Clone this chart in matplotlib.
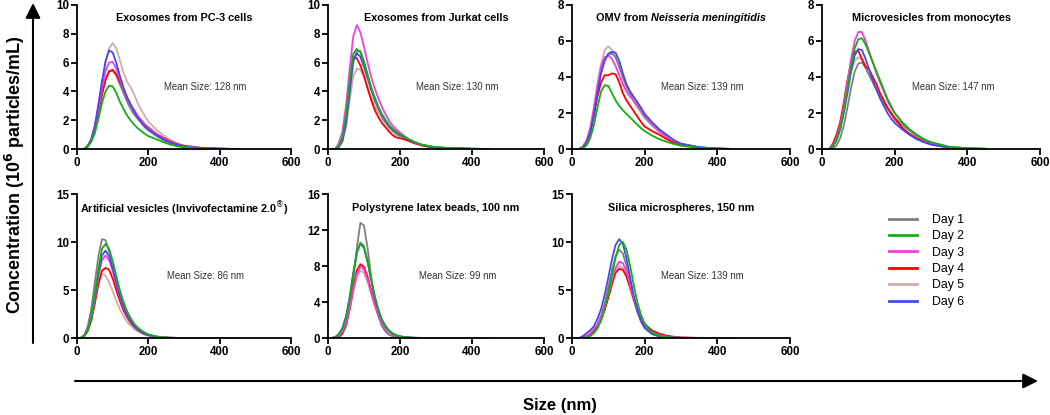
import matplotlib
matplotlib.use("Agg")
import matplotlib.pyplot as plt
from matplotlib.lines import Line2D
from matplotlib.patches import FancyArrowPatch
from matplotlib.offsetbox import TextArea, HPacker, AnchoredOffsetbox

plt.rcParams['font.family'] = ['Liberation Sans', 'DejaVu Sans']

# ---------------- data ----------------
size_nm = [10, 20, 30, 40, 50, 60, 70, 80, 90, 100, 110, 120, 130, 140, 150,
           160, 170, 180, 190, 200, 220, 240, 260, 280, 300, 350, 400, 450]

days = ["Day 1", "Day 2", "Day 3", "Day 4", "Day 5", "Day 6"]
day_colors = ["#808080", "#10B010", "#F040E0", "#FF0000", "#D4AAAA", "#4848F0"]

# (regular bold part, bold-italic part)
titles = [
    ("Exosomes from PC-3 cells", ""),
    ("Exosomes from Jurkat cells", ""),
    ("OMV from", "Neisseria meningitidis"),
    ("Microvesicles from monocytes", ""),
    ("Artificial vesicles (Invivofectamine 2.0$^{\\circledR}$)", ""),
    ("Polystyrene latex beads, 100 nm", ""),
    ("Silica microspheres, 150 nm", ""),
]
mean_sizes = ["Mean Size: 128 nm", "Mean Size: 130 nm", "Mean Size: 139 nm",
              "Mean Size: 147 nm", "Mean Size: 86 nm", "Mean Size: 99 nm",
              "Mean Size: 139 nm"]
y_max = [10, 10, 8, 8, 15, 16, 15]
y_ticks = [[0, 2, 4, 6, 8, 10], [0, 2, 4, 6, 8, 10], [0, 2, 4, 6, 8],
           [0, 2, 4, 6, 8], [0, 5, 10, 15], [0, 4, 8, 12, 16], [0, 5, 10, 15]]
x_ticks = [0, 200, 400, 600]

# Panel 1: Exosomes from PC-3 cells
pc3_day1 = [0, 0, 0.2, 0.6, 1.4, 2.6, 3.8, 4.8, 5.4, 5.45, 5.1, 4.5, 3.9, 3.3, 2.8, 2.4, 2.1, 1.8, 1.5, 1.3, 0.95, 0.65, 0.4, 0.25, 0.15, 0.05, 0.02, 0]
pc3_day2 = [0, 0, 0.15, 0.5, 1.1, 2.1, 3.2, 4.0, 4.4, 4.35, 3.9, 3.3, 2.8, 2.35, 2.0, 1.7, 1.45, 1.25, 1.05, 0.9, 0.7, 0.5, 0.32, 0.2, 0.12, 0.04, 0.01, 0]
pc3_day3 = [0, 0, 0.2, 0.6, 1.5, 2.8, 4.2, 5.4, 6.0, 6.05, 5.6, 4.9, 4.2, 3.6, 3.1, 2.7, 2.3, 2.0, 1.7, 1.45, 1.05, 0.75, 0.5, 0.3, 0.18, 0.06, 0.02, 0]
pc3_day4 = [0, 0, 0.2, 0.6, 1.4, 2.6, 3.8, 4.8, 5.4, 5.5, 5.2, 4.7, 4.2, 3.6, 3.1, 2.7, 2.3, 2.0, 1.7, 1.5, 1.1, 0.8, 0.55, 0.35, 0.22, 0.07, 0.02, 0]
pc3_day5 = [0, 0, 0.2, 0.7, 1.6, 3.0, 4.6, 6.0, 7.0, 7.35, 7.0, 6.2, 5.3, 4.7, 4.3, 3.8, 3.2, 2.7, 2.3, 1.9, 1.4, 1.0, 0.65, 0.4, 0.25, 0.08, 0.02, 0]
pc3_day6 = [0, 0, 0.2, 0.7, 1.6, 3.1, 4.7, 6.1, 6.85, 6.7, 6.0, 5.1, 4.3, 3.6, 3.1, 2.6, 2.2, 1.9, 1.6, 1.35, 1.0, 0.7, 0.45, 0.3, 0.18, 0.06, 0.02, 0]

# Panel 2: Exosomes from Jurkat cells
jur_day1 = [0, 0, 0.15, 0.6, 1.8, 3.9, 6.0, 6.8, 6.8, 6.1, 5.2, 4.3, 3.6, 2.9, 2.4, 2.0, 1.65, 1.4, 1.2, 1.05, 0.7, 0.45, 0.3, 0.2, 0.12, 0.05, 0.02, 0]
jur_day2 = [0, 0, 0.2, 0.8, 2.3, 4.6, 6.6, 6.95, 6.7, 6.0, 5.1, 4.2, 3.5, 2.9, 2.4, 2.0, 1.65, 1.35, 1.15, 1.0, 0.75, 0.5, 0.3, 0.2, 0.12, 0.05, 0.02, 0]
jur_day3 = [0, 0, 0.4, 1.2, 3.0, 5.5, 7.8, 8.6, 8.1, 7.1, 6.0, 5.0, 4.2, 3.5, 2.9, 2.4, 1.95, 1.6, 1.35, 1.15, 0.75, 0.45, 0.3, 0.2, 0.12, 0.05, 0.01, 0]
jur_day4 = [0, 0, 0.15, 0.7, 2.0, 4.4, 6.4, 6.3, 5.8, 5.1, 4.2, 3.4, 2.7, 2.2, 1.8, 1.5, 1.2, 0.95, 0.8, 0.75, 0.6, 0.4, 0.25, 0.15, 0.1, 0.04, 0.01, 0]
jur_day5 = [0, 0, 0.1, 0.5, 1.5, 3.3, 5.0, 5.6, 5.5, 5.0, 4.3, 3.6, 3.0, 2.5, 2.1, 1.75, 1.45, 1.2, 1.0, 0.85, 0.6, 0.4, 0.25, 0.15, 0.1, 0.04, 0.01, 0]
jur_day6 = [0, 0, 0.15, 0.6, 1.8, 4.0, 6.1, 6.65, 6.4, 5.7, 4.9, 4.1, 3.4, 2.8, 2.3, 1.9, 1.55, 1.3, 1.1, 0.95, 0.7, 0.45, 0.3, 0.18, 0.1, 0.04, 0.01, 0]

# Panel 3: OMV from Neisseria meningitidis
omv_day1 = [0, 0, 0.1, 0.4, 1.0, 2.0, 3.2, 4.3, 5.0, 5.25, 5.3, 5.1, 4.6, 4.0, 3.5, 3.1, 2.7, 2.4, 2.1, 1.8, 1.35, 1.0, 0.7, 0.45, 0.28, 0.09, 0.02, 0]
omv_day2 = [0, 0, 0.05, 0.2, 0.6, 1.3, 2.3, 3.2, 3.55, 3.5, 3.1, 2.7, 2.4, 2.15, 1.95, 1.75, 1.55, 1.35, 1.15, 1.0, 0.75, 0.55, 0.4, 0.28, 0.18, 0.06, 0.02, 0]
omv_day3 = [0, 0, 0.12, 0.45, 1.1, 2.2, 3.5, 4.6, 5.1, 5.2, 5.0, 4.6, 4.1, 3.6, 3.2, 2.9, 2.7, 2.5, 2.2, 1.9, 1.4, 1.0, 0.7, 0.45, 0.28, 0.09, 0.02, 0]
omv_day4 = [0, 0, 0.1, 0.35, 0.9, 1.8, 2.9, 3.7, 4.1, 4.1, 4.2, 4.15, 3.7, 3.1, 2.7, 2.4, 2.1, 1.8, 1.5, 1.25, 1.0, 0.8, 0.55, 0.35, 0.22, 0.07, 0.02, 0]
omv_day5 = [0, 0, 0.15, 0.5, 1.2, 2.3, 3.6, 4.7, 5.5, 5.7, 5.5, 5.1, 4.5, 3.9, 3.4, 3.0, 2.6, 2.3, 2.0, 1.7, 1.3, 0.95, 0.65, 0.4, 0.25, 0.08, 0.02, 0]
omv_day6 = [0, 0, 0.1, 0.35, 0.9, 1.9, 3.1, 4.2, 4.9, 5.3, 5.4, 5.35, 4.9, 4.2, 3.6, 3.2, 2.9, 2.6, 2.3, 1.95, 1.5, 1.1, 0.8, 0.5, 0.3, 0.1, 0.02, 0]

# Panel 4: Microvesicles from monocytes
mv_day1 = [0, 0, 0.05, 0.2, 0.6, 1.3, 2.3, 3.4, 4.3, 4.75, 4.8, 4.5, 4.1, 3.7, 3.3, 2.9, 2.6, 2.3, 2.0, 1.75, 1.35, 1.05, 0.75, 0.5, 0.35, 0.12, 0.05, 0.02]
mv_day2 = [0, 0, 0.15, 0.5, 1.1, 2.1, 3.3, 4.6, 5.6, 6.1, 6.15, 5.8, 5.3, 4.8, 4.3, 3.8, 3.3, 2.8, 2.4, 2.0, 1.5, 1.1, 0.8, 0.55, 0.38, 0.12, 0.04, 0.01]
mv_day3 = [0, 0, 0.2, 0.6, 1.3, 2.4, 3.7, 5.0, 6.0, 6.5, 6.5, 6.0, 5.4, 4.8, 4.2, 3.7, 3.2, 2.7, 2.3, 2.0, 1.5, 1.1, 0.8, 0.55, 0.35, 0.1, 0.03, 0]
mv_day4 = [0, 0, 0.3, 0.8, 1.5, 2.6, 3.8, 4.8, 5.4, 5.45, 5.0, 4.6, 4.4, 4.0, 3.6, 3.1, 2.7, 2.3, 2.0, 1.7, 1.2, 0.85, 0.6, 0.4, 0.25, 0.07, 0.02, 0]
mv_day5 = [0, 0, 0.15, 0.5, 1.1, 2.1, 3.3, 4.3, 4.9, 5.1, 4.9, 4.5, 4.1, 3.7, 3.3, 2.9, 2.5, 2.2, 1.9, 1.6, 1.2, 0.9, 0.65, 0.45, 0.3, 0.1, 0.03, 0.01]
mv_day6 = [0, 0, 0.15, 0.5, 1.1, 2.0, 3.1, 4.3, 5.2, 5.55, 5.5, 5.0, 4.4, 3.8, 3.3, 2.8, 2.4, 2.0, 1.7, 1.45, 1.1, 0.8, 0.55, 0.38, 0.25, 0.08, 0.02, 0]

# Panel 5: Artificial vesicles
art_day1 = [0, 0.3, 1.2, 3.0, 5.8, 8.5, 10.3, 10.2, 9.0, 7.3, 5.6, 4.2, 3.1, 2.3, 1.7, 1.2, 0.85, 0.6, 0.4, 0.28, 0.12, 0.05, 0.02, 0.01, 0, 0, 0, 0]
art_day2 = [0, 0.2, 0.8, 2.2, 4.5, 7.2, 9.3, 9.8, 9.3, 8.0, 6.5, 5.0, 3.8, 2.8, 2.1, 1.5, 1.1, 0.8, 0.55, 0.38, 0.18, 0.08, 0.03, 0.01, 0, 0, 0, 0]
art_day3 = [0, 0.2, 0.8, 2.0, 4.0, 6.4, 8.1, 8.6, 8.1, 7.0, 5.6, 4.3, 3.2, 2.4, 1.8, 1.3, 0.9, 0.65, 0.45, 0.32, 0.15, 0.06, 0.02, 0.01, 0, 0, 0, 0]
art_day4 = [0, 0.2, 0.7, 1.8, 3.6, 5.6, 7.0, 7.3, 7.1, 6.2, 5.0, 3.9, 2.9, 2.2, 1.6, 1.2, 0.85, 0.6, 0.42, 0.3, 0.14, 0.06, 0.02, 0.01, 0, 0, 0, 0]
art_day5 = [0, 0.2, 0.8, 2.0, 3.9, 5.8, 6.7, 6.5, 5.8, 4.9, 3.9, 3.0, 2.3, 1.7, 1.3, 0.95, 0.7, 0.5, 0.35, 0.25, 0.12, 0.05, 0.02, 0.01, 0, 0, 0, 0]
art_day6 = [0, 0.2, 0.8, 2.1, 4.3, 6.8, 8.6, 9.1, 8.5, 7.3, 5.8, 4.4, 3.3, 2.4, 1.8, 1.3, 0.9, 0.65, 0.45, 0.32, 0.15, 0.06, 0.02, 0.01, 0, 0, 0, 0]

# Panel 6: Polystyrene latex beads
ps_day1 = [0, 0, 0.05, 0.4, 1.3, 3.2, 6.3, 10.0, 12.8, 12.5, 10.0, 6.8, 4.2, 2.4, 1.3, 0.7, 0.35, 0.18, 0.08, 0.04, 0.01, 0, 0, 0, 0, 0, 0, 0]
ps_day2 = [0, 0.1, 0.4, 1.0, 2.2, 4.3, 7.0, 9.4, 10.6, 10.2, 8.6, 6.5, 4.6, 3.1, 2.0, 1.3, 0.8, 0.5, 0.3, 0.18, 0.07, 0.02, 0.01, 0, 0, 0, 0, 0]
ps_day3 = [0, 0.05, 0.25, 0.7, 1.6, 3.2, 5.3, 7.1, 7.9, 7.6, 6.5, 5.1, 3.7, 2.5, 1.6, 1.0, 0.65, 0.4, 0.25, 0.15, 0.05, 0.02, 0, 0, 0, 0, 0, 0]
ps_day4 = [0, 0.05, 0.2, 0.6, 1.5, 3.2, 5.5, 7.5, 8.2, 7.9, 6.8, 5.3, 3.8, 2.6, 1.7, 1.1, 0.7, 0.4, 0.25, 0.15, 0.05, 0.02, 0, 0, 0, 0, 0, 0]
ps_day5 = [0, 0.05, 0.25, 0.7, 1.6, 3.1, 5.1, 6.8, 7.5, 7.2, 6.2, 4.8, 3.5, 2.4, 1.6, 1.0, 0.65, 0.4, 0.25, 0.15, 0.05, 0.02, 0, 0, 0, 0, 0, 0]
ps_day6 = [0, 0.1, 0.45, 1.1, 2.4, 4.5, 7.2, 9.5, 10.5, 10.0, 8.4, 6.4, 4.6, 3.1, 2.0, 1.3, 0.8, 0.5, 0.3, 0.18, 0.07, 0.02, 0.01, 0, 0, 0, 0, 0]

# Panel 7: Silica microspheres
si_day1 = [0, 0, 0.05, 0.2, 0.4, 0.8, 1.4, 2.3, 3.6, 5.3, 7.1, 8.5, 9.2, 8.8, 7.5, 5.8, 4.1, 2.7, 1.7, 1.0, 0.4, 0.15, 0.06, 0.02, 0.01, 0, 0, 0]
si_day2 = [0, 0, 0, 0.05, 0.2, 0.5, 1.0, 1.8, 3.0, 4.6, 6.5, 8.4, 9.7, 10.0, 9.2, 7.5, 5.5, 3.7, 2.4, 1.5, 0.6, 0.25, 0.1, 0.04, 0.02, 0, 0, 0]
si_day3 = [0, 0, 0.05, 0.2, 0.5, 0.9, 1.4, 2.2, 3.3, 4.6, 6.0, 7.3, 7.95, 7.8, 6.9, 5.6, 4.2, 3.0, 2.0, 1.3, 0.6, 0.3, 0.15, 0.08, 0.04, 0.01, 0, 0]
si_day4 = [0, 0, 0.05, 0.2, 0.4, 0.7, 1.2, 1.9, 2.9, 4.2, 5.6, 6.8, 7.2, 7.1, 6.4, 5.3, 4.1, 3.0, 2.1, 1.45, 0.8, 0.45, 0.25, 0.13, 0.06, 0.01, 0, 0]
si_day5 = [0, 0, 0.05, 0.2, 0.4, 0.8, 1.3, 2.1, 3.2, 4.5, 5.9, 7.0, 7.5, 7.3, 6.4, 5.1, 3.8, 2.7, 1.8, 1.2, 0.55, 0.25, 0.12, 0.05, 0.02, 0, 0, 0]
si_day6 = [0, 0, 0.2, 0.5, 0.8, 1.2, 2.0, 3.0, 4.5, 6.3, 8.2, 9.7, 10.3, 9.8, 8.3, 6.3, 4.4, 2.9, 1.8, 1.1, 0.45, 0.2, 0.08, 0.03, 0.01, 0, 0, 0]

panels = [
    [pc3_day1, pc3_day2, pc3_day3, pc3_day4, pc3_day5, pc3_day6],
    [jur_day1, jur_day2, jur_day3, jur_day4, jur_day5, jur_day6],
    [omv_day1, omv_day2, omv_day3, omv_day4, omv_day5, omv_day6],
    [mv_day1, mv_day2, mv_day3, mv_day4, mv_day5, mv_day6],
    [art_day1, art_day2, art_day3, art_day4, art_day5, art_day6],
    [ps_day1, ps_day2, ps_day3, ps_day4, ps_day5, ps_day6],
    [si_day1, si_day2, si_day3, si_day4, si_day5, si_day6],
]

# ---------------- layout ----------------
W, H = 1050, 415
fig = plt.figure(figsize=(W / 100, H / 100), dpi=100)

col_x = [(77, 291), (328, 544), (572, 790), (822, 1040)]
row_y = [(5, 149), (194, 338)]
draw_order = [4, 0, 3, 2, 5, 1]
title_fs = 7.8

for i, series in enumerate(panels):
    r = 0 if i < 4 else 1
    c = i if i < 4 else i - 4
    x0, x1 = col_x[c]
    yt, yb = row_y[r]
    ax = fig.add_axes([x0 / W, (H - yb) / H, (x1 - x0) / W, (yb - yt) / H])
    for d in draw_order:
        ax.plot(size_nm, series[d], color=day_colors[d], lw=1.3,
                label=days[d], solid_joinstyle='round')
    ax.set_xlim(0, 600)
    ax.set_ylim(0, y_max[i])
    ax.set_xticks(x_ticks)
    ax.set_yticks(y_ticks[i])
    for s in ['top', 'right']:
        ax.spines[s].set_visible(False)
    for s in ['left', 'bottom']:
        ax.spines[s].set_linewidth(1.3)
    ax.tick_params(direction='out', length=4, width=1.3, pad=1.5)
    for lab in ax.get_xticklabels() + ax.get_yticklabels():
        lab.set_fontweight('bold')
        lab.set_fontsize(8.3)
    ax.set_facecolor('none')
    ty = 0.91 if r == 0 else 0.9
    plain, ital = titles[i]
    if ital:
        t1 = TextArea(plain, textprops=dict(fontsize=title_fs, fontweight='bold'))
        t2 = TextArea(ital, textprops=dict(fontsize=title_fs, fontweight='bold',
                                           style='italic'))
        box = HPacker(children=[t1, t2], align='baseline', pad=0, sep=2)
        ab = AnchoredOffsetbox(loc='center', child=box, bbox_to_anchor=(0.5, ty),
                               bbox_transform=ax.transAxes, frameon=False,
                               pad=0, borderpad=0)
        ax.add_artist(ab)
    else:
        ax.text(0.5, ty, plain, transform=ax.transAxes,
                ha='center', va='center', fontsize=title_fs, fontweight='bold')
    ax.text(0.6, 0.43, mean_sizes[i], transform=ax.transAxes,
            ha='center', va='center', fontsize=6.9, color='#333333')

# legend
handles = [Line2D([0], [0], color=day_colors[d], lw=2) for d in range(6)]
fig.legend(handles, days, loc='upper left',
           bbox_to_anchor=(884 / W, (H - 209) / H), frameon=False,
           fontsize=8.8, handlelength=2.3, handletextpad=1.25,
           labelspacing=0.36, borderaxespad=0)

# big arrows
fig.add_artist(FancyArrowPatch(
    (33 / W, (H - 343) / H), (33 / W, (H - 3) / H), transform=fig.transFigure,
    arrowstyle='-|>,head_length=6,head_width=3', lw=1.5, color='black',
    mutation_scale=1.5, shrinkA=0, shrinkB=0))
fig.add_artist(FancyArrowPatch(
    (75 / W, (H - 381) / H), (1038 / W, (H - 381) / H), transform=fig.transFigure,
    arrowstyle='-|>,head_length=6,head_width=3', lw=1.5, color='black',
    mutation_scale=1.5, shrinkA=0, shrinkB=0))

fig.text(15 / W, (H - 175) / H, "Concentration (10$^{\\mathbf{6}}$ particles/mL)",
         rotation=90, ha='center', va='center', fontsize=12.9, fontweight='bold')
fig.text(560 / W, (H - 405) / H, "Size (nm)", ha='center', va='center',
         fontsize=12, fontweight='bold')

fig.savefig("out.png", dpi=100)
